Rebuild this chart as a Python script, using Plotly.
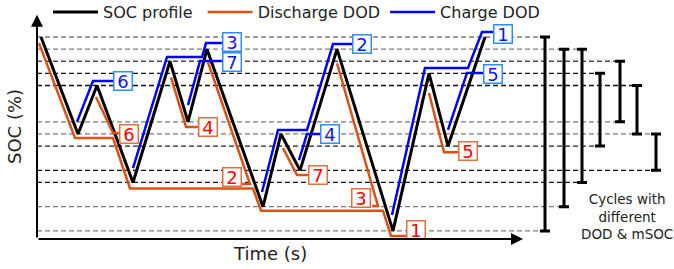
import plotly.graph_objects as go

# ---------------- data ----------------
# SOC profile (time in s, SOC in %)
soc_time = [4, 41, 60, 96, 133, 151, 170, 226, 244, 263, 300, 356, 392, 411, 448]
soc_value = [100, 52, 76, 28, 88, 58, 94, 16, 52, 34, 94, 4, 82, 46, 100]

# Discharge DOD half-cycles
dis1_t = [2, 38, 76, 93, 216, 224, 346, 354, 370]
dis1_s = [97, 50, 50, 25, 25, 14, 14, 1.5, 1.5]
dis2_t = [171, 213, 205]
dis2_s = [87.5, 27.2, 27.2]
dis3_t = [300, 341, 335]
dis3_s = [87, 16.3, 16.3]
dis4_t = [134, 149, 161]
dis4_s = [80, 55.5, 55.5]
dis5_t = [392, 407, 421]
dis5_s = [72.3, 43, 43]
dis6_t = [59, 76, 82]
dis6_s = [70.3, 52.5, 52.5]
dis7_t = [246, 260, 271]
dis7_s = [45, 31.7, 31.7]

# Charge DOD half-cycles
chg1_t = [355, 388, 431, 445, 456]
chg1_s = [11.9, 84.7, 84.7, 102.5, 102.5]
chg2_t = [225, 241, 270, 296, 315]
chg2_s = [23.3, 54, 54, 96.5, 96.5]
chg3_t = [96, 130, 165, 169, 185]
chg3_s = [35.1, 90.1, 90.1, 97, 97]
chg4_t = [262, 270, 283]
chg4_s = [39, 52, 52]
chg5_t = [411, 430, 446]
chg5_s = [54, 82.2, 82.2]
chg6_t = [40, 56, 76]
chg6_s = [58, 78.2, 78.2]
chg7_t = [151, 163, 185]
chg7_s = [66.3, 88.1, 88.1]

# cycle labels
dis_labels = ["1", "2", "3", "4", "5", "6", "7"]
dis_label_t = [379, 195, 324, 171, 431, 92, 281]
dis_label_s = [4.5, 30.9, 20.5, 55.4, 43.6, 52.2, 31.7]
chg_labels = ["1", "2", "3", "4", "5", "6", "7"]
chg_label_t = [466, 324.5, 195, 293, 456, 86, 195]
chg_label_s = [101.5, 96.5, 97.5, 52.2, 81.7, 78.2, 87.6]

# SOC reference levels and where each dashed line stops
level_soc = [100, 94, 88, 82, 76, 58, 52, 46, 34, 28, 16, 4]
level_end = [508, 545, 583, 563, 600, 583, 619, 563, 619, 545, 527, 508]

# cycles with different DOD & mSOC
bar_time = [508, 527, 545, 563, 583, 600, 619]
bar_low = [4, 16, 28, 46, 58, 52, 34]
bar_high = [100, 94, 94, 82, 88, 76, 52]

# ---------------- styles ----------------
FONT = "DejaVu Sans"
ORANGE = "#D95319"
BLUE = "#0000FF"
NB = "\u00a0"
level_color = ["#7a7a7a", "#7a7a7a", "#4a4a4a", "#111111", "#111111", "#7a7a7a",
               "#7a7a7a", "#222222", "#111111", "#111111", "#7a7a7a", "#7a7a7a"]


def join(paths):
    xs, ys = [], []
    for t, s in paths:
        xs += list(t) + [None]
        ys += list(s) + [None]
    return xs, ys


fig = go.Figure()

# dashed reference levels
for lv, end, col in zip(level_soc, level_end, level_color):
    fig.add_trace(go.Scatter(x=[0, end + 4], y=[lv, lv], mode="lines",
                             line=dict(color=col, width=1.3, dash="5px,3px"),
                             showlegend=False, hoverinfo="skip"))

# SOC profile
fig.add_trace(go.Scatter(x=soc_time, y=soc_value, mode="lines", name="SOC profile" + NB,
                         line=dict(color="black", width=3)))

dx, dy = join([(dis1_t, dis1_s), (dis2_t, dis2_s), (dis3_t, dis3_s), (dis4_t, dis4_s),
               (dis5_t, dis5_s), (dis6_t, dis6_s), (dis7_t, dis7_s)])
fig.add_trace(go.Scatter(x=dx, y=dy, mode="lines", name="Discharge DOD",
                         line=dict(color=ORANGE, width=2.5)))

cx, cy = join([(chg1_t, chg1_s), (chg2_t, chg2_s), (chg3_t, chg3_s), (chg4_t, chg4_s),
               (chg5_t, chg5_s), (chg6_t, chg6_s), (chg7_t, chg7_s)])
fig.add_trace(go.Scatter(x=cx, y=cy, mode="lines", name="Charge DOD",
                         line=dict(color=BLUE, width=2.5)))

# range bars
fig.add_trace(go.Scatter(
    x=bar_time, y=bar_low, mode="markers",
    marker=dict(size=1, color="rgba(0,0,0,0)"),
    error_y=dict(type="data", symmetric=False,
                 array=[h - l for h, l in zip(bar_high, bar_low)],
                 arrayminus=[0] * len(bar_low),
                 color="black", thickness=3, width=5),
    showlegend=False, hoverinfo="skip"))

annotations = []
for txt, t, s in zip(dis_labels, dis_label_t, dis_label_s):
    annotations.append(dict(x=t, y=s, xref="x", yref="y", text=txt, showarrow=False,
                            font=dict(family=FONT, size=18, color="#FF0000"),
                            bgcolor="white", bordercolor="#E2703F", borderwidth=1.5,
                            borderpad=0, width=17, height=17))
for txt, t, s in zip(chg_labels, chg_label_t, chg_label_s):
    annotations.append(dict(x=t, y=s, xref="x", yref="y", text=txt, showarrow=False,
                            font=dict(family=FONT, size=18, color="#1414F0"),
                            bgcolor="white", bordercolor="#2E8EF5", borderwidth=1.5,
                            borderpad=0, width=17, height=17))

# axes drawn as arrows
annotations.append(dict(x=0, y=111, ax=0, ay=0, xref="x", yref="y", axref="x", ayref="y",
                        showarrow=True, arrowhead=2, arrowsize=1.2, arrowwidth=2,
                        arrowcolor="black", text=""))
annotations.append(dict(x=486, y=0, ax=0, ay=0, xref="x", yref="y", axref="x", ayref="y",
                        showarrow=True, arrowhead=2, arrowsize=1.2, arrowwidth=2,
                        arrowcolor="black", text=""))

annotations.append(dict(x=14 / 674, y=1 - 127 / 269, xref="paper", yref="paper",
                        xanchor="center", yanchor="middle",
                        text="SOC (%)", textangle=-90, showarrow=False,
                        font=dict(family=FONT, size=18, color="#222")))
annotations.append(dict(x=270 / 674, y=1 - 253 / 269, xref="paper", yref="paper",
                        xanchor="center", yanchor="middle",
                        text="Time (s)", showarrow=False,
                        font=dict(family=FONT, size=18, color="#222")))
annotations.append(dict(x=590, y=10.9, xref="x", yref="y",
                        xanchor="center", yanchor="middle",
                        text="Cycles with<br>different<br>DOD &amp; mSOC", showarrow=False,
                        font=dict(family=FONT, size=13.5, color="#222")))

fig.update_layout(
    width=674, height=269, autosize=False,
    margin=dict(l=0, r=0, t=0, b=0, pad=0, autoexpand=False),
    paper_bgcolor="white", plot_bgcolor="white",
    xaxis=dict(range=[-37, 637], visible=False, fixedrange=True),
    yaxis=dict(range=[-14.85, 118.32], visible=False, fixedrange=True),
    showlegend=True,
    legend=dict(orientation="h", x=48 / 674, xanchor="left", y=1 + 5 / 269, yanchor="top",
                bgcolor="rgba(0,0,0,0)", itemwidth=45,
                font=dict(family=FONT, size=16, color="#222")),
    annotations=annotations,
    font=dict(family=FONT),
)

fig.write_html("out.html", config={"displayModeBar": False},
               post_script="document.body.style.margin='0';document.body.style.overflow='hidden';")
